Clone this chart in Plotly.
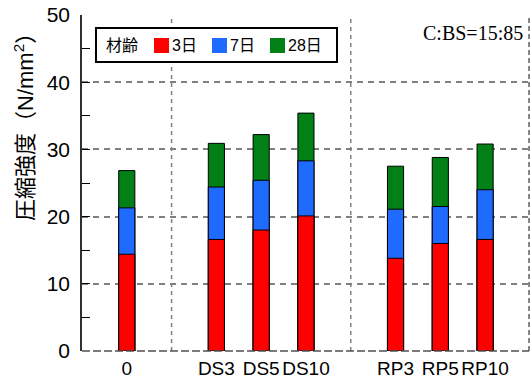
import plotly.graph_objects as go

# Compressive strength by specimen and curing age (N/mm2)
specimens = ["0", "DS3", "DS5", "DS10", "RP3", "RP5", "RP10"]
strength_3d = [14.4, 16.6, 18.0, 20.1, 13.8, 16.0, 16.6]
strength_7d = [21.3, 24.4, 25.4, 28.3, 21.1, 21.5, 24.0]
strength_28d = [26.85, 30.9, 32.2, 35.4, 27.5, 28.8, 30.8]
age_labels = ["3日", "7日", "28日"]
age_colors = ["#ff0000", "#1f6bff", "#008015"]
groups = [["0"], ["DS3", "DS5", "DS10"], ["RP3", "RP5", "RP10"]]

# category order with empty slots between the groups
spacers = []
category_order = []
for i, g in enumerate(groups):
    if i > 0:
        sp = " " * i
        spacers.append(sp)
        category_order.append(sp)
    category_order.extend(g)

series = [strength_3d, strength_7d, strength_28d]
fig = go.Figure()
# longest age at the back so the earlier ages show in front
for label, color, vals in reversed(list(zip(age_labels, age_colors, series))):
    fig.add_trace(go.Bar(
        x=specimens, y=vals, name=label, width=0.36,
        marker=dict(color=color, line=dict(color="black", width=1)),
        showlegend=False,
    ))

PW, PH, L, B = 447, 336, 82, 27


def px_x(v):
    return (v - L) / PW


def px_y(v):
    return (378 - B - v) / PH


shapes = []
for sp in spacers:
    xi = category_order.index(sp)
    shapes.append(dict(type="line", xref="x", yref="paper", x0=xi, x1=xi, y0=0, y1=1,
                       line=dict(color="#808080", width=1.5, dash="4px,4px"), layer="below"))
shapes.append(dict(type="line", xref="paper", yref="paper", x0=1, x1=1, y0=0, y1=1,
                   line=dict(color="#606060", width=1.5, dash="5px,3px")))
shapes.append(dict(type="line", xref="paper", yref="paper", x0=0, x1=1, y0=0, y1=0,
                   line=dict(color="#505050", width=1.5, dash="8px,3px")))

# legend: frame, heading and one swatch + label per curing age
annotations = []
shapes.append(dict(type="rect", xref="paper", yref="paper",
                   x0=px_x(96), x1=px_x(337), y0=px_y(62), y1=px_y(28),
                   line=dict(color="black", width=2), fillcolor="white", layer="above"))
annotations.append(dict(text="材齢", xref="paper", yref="paper", x=px_x(104), y=px_y(45),
                        xanchor="left", yanchor="middle", showarrow=False,
                        font=dict(size=16)))
for k, (label, color) in enumerate(zip(age_labels, age_colors)):
    left = 154 + 58 * k
    shapes.append(dict(type="rect", xref="paper", yref="paper",
                       x0=px_x(left), x1=px_x(left + 15), y0=px_y(53), y1=px_y(38),
                       line=dict(width=0), fillcolor=color, layer="above"))
    annotations.append(dict(text=label, xref="paper", yref="paper", x=px_x(left + 16),
                            y=px_y(45), xanchor="left", yanchor="middle",
                            showarrow=False, font=dict(size=16)))

annotations += [
    dict(text="C:BS=15:85", xref="paper", yref="paper", x=0.99, y=0.945,
         xanchor="right", yanchor="middle", showarrow=False,
         font=dict(family="Liberation Serif", size=20)),
    dict(text="圧縮強度（N/mm<sup>2</sup>）", xref="paper", yref="paper",
         x=px_x(24), y=px_y(122), xanchor="center", yanchor="middle", textangle=-90,
         showarrow=False, font=dict(size=22)),
]

fig.update_layout(
    width=532, height=378,
    margin=dict(l=L, r=532 - L - PW, t=378 - B - PH, b=B),
    paper_bgcolor="white", plot_bgcolor="white",
    barmode="overlay", showlegend=False,
    font=dict(family="Liberation Sans, Noto Sans CJK JP", color="black"),
    shapes=shapes, annotations=annotations,
)
fig.update_xaxes(
    type="category", categoryorder="array", categoryarray=category_order,
    tickmode="array", tickvals=specimens, ticktext=specimens,
    range=[-1, 8.98], showgrid=False, zeroline=False, showline=False,
    ticks="", tickangle=0, tickfont=dict(size=19), ticklabelstandoff=4,
    automargin=False,
)
fig.update_yaxes(
    range=[0, 50], dtick=10, showgrid=True, gridcolor="#808080", gridwidth=1.5,
    griddash="6px,5px", zeroline=False,
    showline=True, linecolor="#303030", linewidth=1.5,
    ticks="inside", ticklen=8, tickcolor="black", tickwidth=1.2,
    minor=dict(dtick=5, ticks="inside", ticklen=8, tickcolor="black", tickwidth=1.2, showgrid=False),
    tickfont=dict(size=21), ticklabelstandoff=6, automargin=False,
)

fig.write_html("out.html")
